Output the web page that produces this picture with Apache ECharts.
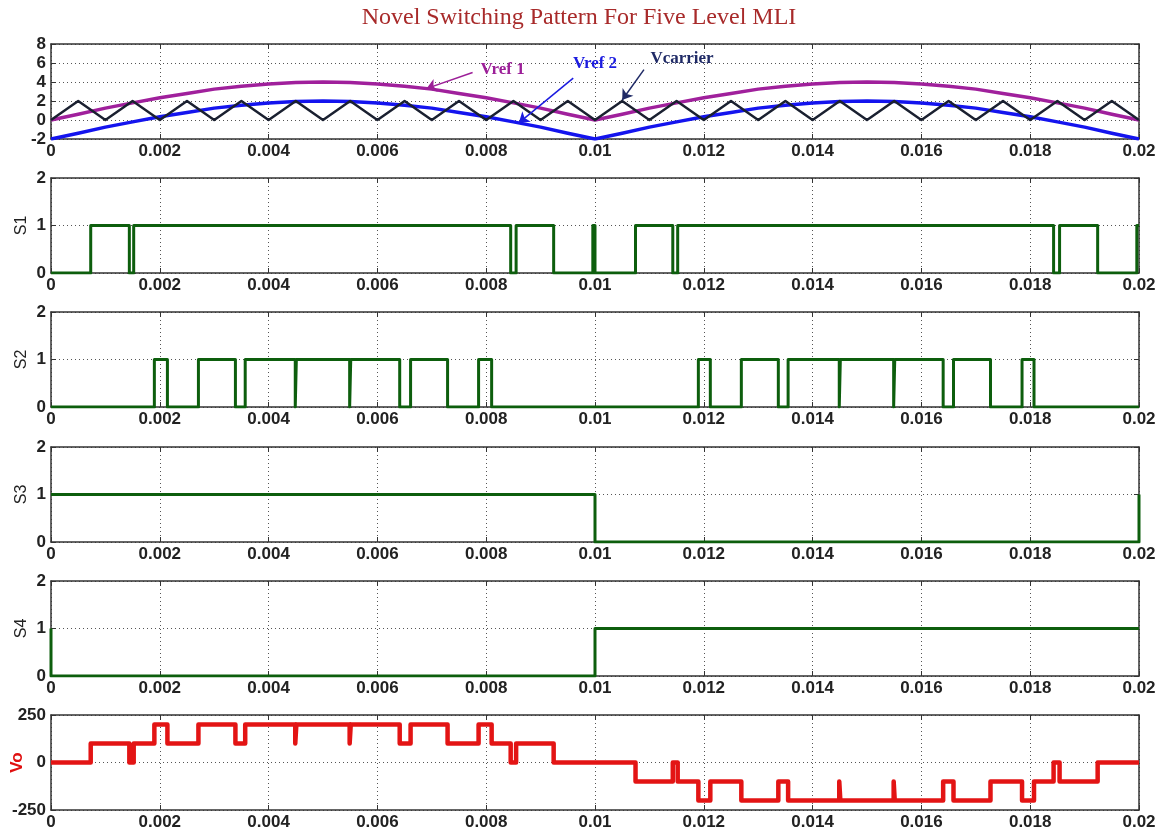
<!DOCTYPE html>
<html><head><meta charset="utf-8">
<script src="https://cdn.jsdelivr.net/npm/echarts@6/dist/echarts.min.js"></script>
<style>html,body{margin:0;padding:0;background:#fff}#c{width:1158px;height:836px}</style>
</head><body><div id="c"></div>
<script>
// ---------- DATA ----------
const titleText = 'Novel Switching Pattern For Five Level MLI';
const panelNames = ['', 'S1', 'S2', 'S3', 'S4', 'Vo'];

// reference / carrier waveforms sampled every 0.5 ms
const refTimes = [0,0.0005,0.001,0.0015,0.002,0.0025,0.003,0.0035,0.004,0.0045,0.005,0.0055,0.006,0.0065,0.007,0.0075,0.008,0.0085,0.009,0.0095,0.01,
  0.0105,0.011,0.0115,0.012,0.0125,0.013,0.0135,0.014,0.0145,0.015,0.0155,0.016,0.0165,0.017,0.0175,0.018,0.0185,0.019,0.0195,0.02];
const vref1 = [0,0.6,1.25,1.8,2.35,2.8,3.25,3.55,3.8,3.95,4.0,3.95,3.8,3.55,3.25,2.8,2.35,1.8,1.25,0.6,0,
  0.6,1.25,1.8,2.35,2.8,3.25,3.55,3.8,3.95,4.0,3.95,3.8,3.55,3.25,2.8,2.35,1.8,1.25,0.6,0];
const vref2 = [-2,-1.4,-0.75,-0.2,0.35,0.8,1.25,1.55,1.8,1.95,2.0,1.95,1.8,1.55,1.25,0.8,0.35,-0.2,-0.75,-1.4,-2,
  -1.4,-0.75,-0.2,0.35,0.8,1.25,1.55,1.8,1.95,2.0,1.95,1.8,1.55,1.25,0.8,0.35,-0.2,-0.75,-1.4,-2];
const vcarrier = [0,2,0,2,0,2,0,2,0,2,0,2,0,2,0,2,0,2,0,2,0,2,0,2,0,2,0,2,0,2,0,2,0,2,0,2,0,2,0,2,0];

// switching signals: time at which the level changes, and the new level
const s1Times  = [0,0.00073,0.00144,0.00152,0.00845,0.00855,0.00924,0.00996,0.01,0.010745,0.01143,0.01152,0.01843,0.01854,0.01924,0.01996,0.02];
const s1Values = [0,1,0,1,0,1,0,1,0,1,0,1,0,1,0,1,1];
const s2Times  = [0,0.0019,0.00214,0.00271,0.00339,0.00357,0.00449,0.00451,0.00549,0.00551,0.00641,0.00661,0.00729,0.00786,0.0081,
  0.0119,0.01212,0.01269,0.01337,0.01355,0.01449,0.01451,0.01549,0.01551,0.0164,0.01659,0.01727,0.01785,0.01807,0.02];
const s2Values = [0,1,0,1,0,1,0,1,0,1,0,1,0,1,0, 1,0,1,0,1,0,1,0,1,0,1,0,1,0,0];
const s3Times  = [0,0.01,0.02];
const s3Values = [1,0,1];
const s4Times  = [0,0,0.01,0.02];
const s4Values = [1,0,1,1];
const voTimes  = [0,0.00073,0.00144,0.00152,0.0019,0.00214,0.00271,0.00339,0.00357,0.00449,0.00451,0.00549,0.00551,0.00641,0.00661,0.00729,0.00786,0.0081,0.00845,0.00855,0.00924,
  0.010745,0.01143,0.01152,0.0119,0.01212,0.01269,0.01337,0.01355,0.01449,0.01451,0.01549,0.01551,0.0164,0.01659,0.01727,0.01785,0.01807,0.01843,0.01854,0.01924,0.02];
const voValues = [0,100,0,100,200,100,200,100,200,100,200,100,200,100,200,100,200,100,0,100,0,
  -100,0,-100,-200,-100,-200,-100,-200,-100,-200,-100,-200,-100,-200,-100,-200,-100,0,-100,0,0];

// axis ranges / ticks
const xMin = 0, xMax = 0.02, xStep = 0.002;
const yRanges = [[-2,8,2],[0,2,1],[0,2,1],[0,2,1],[0,2,1],[-250,250,250]];

// annotations (data coordinates)
const annoLabels = ['Vref 1','Vref 2','Vcarrier'];
const annoTextPos = [[0.0083,5.3],[0.01,5.9],[0.0116,6.5]];
const annoArrowFrom = [[0.00775,5.0],[0.0096,4.4],[0.0109,5.3]];
const annoArrowTo = [[0.0069,3.3],[0.0086,-0.3],[0.0105,2.1]];

// ---------- CHART ----------
const SANS = "'Liberation Sans', Arial, sans-serif";
const SERIF = "'Liberation Serif', 'Times New Roman', serif";
const tops = [44,178,312,447,581,715];
const H = 95;
const annoColors = ['#9c1f98','#1b1be0','#1f2a66'];
const pair = (ts, vs) => ts.map((t,i)=>[t, vs[i]]);

const grid=[], xAxis=[], yAxis=[];
const frame = {show:true, onZero:false, lineStyle:{color:'#333', width:1.5}};
const tick = {show:true, inside:true, length:5, lineStyle:{color:'#333', width:1}};
const dotted = {show:true, lineStyle:{type:[1,3], color:'#555', width:1}};
const lbl = {fontFamily:SANS, fontSize:17, fontWeight:'bold', color:'#222'};
tops.forEach((top,i)=>{
  grid.push({left:51, right:19, top:top, height:H, containLabel:false, outerBoundsMode:'none'});
  xAxis.push({type:'value', gridIndex:i, min:xMin, max:xMax, interval:xStep, position:'bottom',
    axisLine:frame, axisTick:tick, splitLine:dotted,
    axisLabel:Object.assign({margin:4, formatter:v=>String(+v.toFixed(4))}, lbl)});
  xAxis.push({type:'value', gridIndex:i, min:xMin, max:xMax, interval:xStep, position:'top',
    axisLine:frame, axisTick:tick, splitLine:{show:false}, axisLabel:{show:false}});
  const r = yRanges[i];
  const isVo = i===5;
  yAxis.push({type:'value', gridIndex:i, min:r[0], max:r[1], interval:r[2], position:'left',
    axisLine:frame, axisTick:tick, splitLine:dotted,
    axisLabel:Object.assign({margin:5}, lbl),
    name:panelNames[i], nameLocation:'middle', nameGap: isVo?25:21, nameMoveOverlap:false,
    nameTextStyle:{fontFamily:SANS, fontSize:isVo?17:16, fontWeight:isVo?'bold':'normal', color:isVo?'#e01010':'#222'}});
  yAxis.push({type:'value', gridIndex:i, min:r[0], max:r[1], interval:r[2], position:'right',
    axisLine:frame, axisTick:tick, splitLine:{show:false}, axisLabel:{show:false}});
});

const lineBase = (i, data, color, width, step) => ({type:'line', xAxisIndex:2*i, yAxisIndex:2*i, data:data,
  showSymbol:false, symbol:'none', step:step||false, clip:true, animation:false, silent:true,
  lineStyle:{color:color, width:width, join:'round'}});

const series = [
  lineBase(0, pair(refTimes, vref1), '#a0209c', 3.5),
  lineBase(0, pair(refTimes, vref2), '#1414ee', 3.5),
  Object.assign(lineBase(0, pair(refTimes, vcarrier), '#1a2030', 2.5), {
    markLine:{silent:true, animation:false, symbol:['none','arrow'], symbolSize:10,
      label:{show:false},
      data: annoArrowFrom.map((f,k)=>[{coord:f, lineStyle:{color:annoColors[k], width:1.5, type:'solid'}, itemStyle:{color:annoColors[k]}},{coord:annoArrowTo[k]}])},
    markPoint:{silent:true, animation:false, symbol:'circle', symbolSize:0,
      data: annoTextPos.map((p,k)=>({coord:p, value:annoLabels[k],
        label:{show:true, position:'inside', formatter:annoLabels[k], fontFamily:SERIF, fontWeight:'bold', fontSize:17, color:annoColors[k]}}))}
  }),
  lineBase(1, pair(s1Times, s1Values), '#0d5e0d', 3, 'end'),
  lineBase(2, pair(s2Times, s2Values), '#0d5e0d', 3, 'end'),
  lineBase(3, pair(s3Times, s3Values), '#0d5e0d', 3, 'end'),
  lineBase(4, pair(s4Times, s4Values), '#0d5e0d', 3, 'end'),
  lineBase(5, pair(voTimes, voValues), '#e31414', 4.5, 'end')
];

const chart = echarts.init(document.getElementById('c'), null, {renderer:'canvas'});
chart.setOption({
  animation:false,
  backgroundColor:'#fff',
  title:{text:titleText, left:'center', top:1, padding:[5,0,5,32],
    textStyle:{fontFamily:SERIF, fontSize:24, fontWeight:'normal', color:'#a82a2a'}},
  grid, xAxis, yAxis, series
});
</script></body></html>
